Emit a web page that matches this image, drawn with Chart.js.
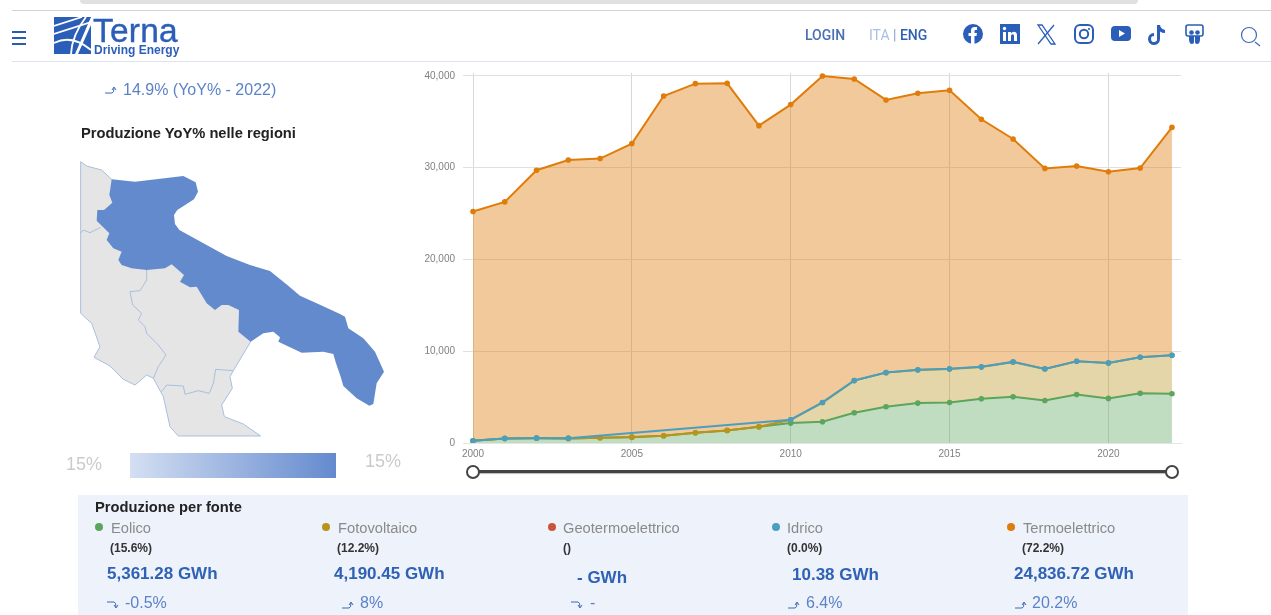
<!DOCTYPE html>
<html lang="it">
<head>
<meta charset="utf-8">
<title>Produzione per fonte</title>
<script src="https://cdn.jsdelivr.net/npm/chart.js@4"></script>
<style>
    html, body { margin: 0; padding: 0; background: #fff; overflow: hidden; }
    #page { position: relative; width: 1271px; height: 615px; overflow: hidden; font-family: "Liberation Sans", Arial, sans-serif; filter: blur(0.3px); }
    #page > * { position: absolute; }
    .abs { position: absolute; white-space: nowrap; line-height: 1; }
    .topbar { left: 80px; top: 0; width: 1058px; height: 4px; background: #e0e0e0; border-radius: 0 0 8px 8px; }
    .rule { left: 12px; width: 1259px; height: 1px; }
    .burger { left: 12px; width: 14px; height: 2px; background: #2a5db0; }
    .nav { font-family: Roboto, sans-serif; font-weight: 500; font-size: 14px; top: 28px; color: #4a6fb5; }
    .panel { left: 78px; top: 495px; width: 1110px; height: 120px; background: #eef2fb; }
    .heading { font-weight: bold; font-size: 14.7px; color: #222; }
    .name { font-size: 14.7px; color: #8a8a8a; top: 521px; }
    .share { font-weight: bold; font-size: 12px; color: #333; top: 542px; }
    .gwh { font-weight: bold; font-size: 17px; color: #2f62b5; }
    .yoy { font-size: 16px; color: #5c82c8; top: 595px; }
    .dot { width: 8px; height: 8px; border-radius: 50%; top: 523px; }
    .track { left: 473px; top: 470px; width: 699px; height: 3px; background: #444; box-shadow: 0 1px 1px #bbb; }
    .knob { top: 465px; width: 10px; height: 10px; border: 2px solid #444; border-radius: 50%; background: #fff; }
</style>
</head>
<body>
<div id="page">
    <div class="topbar"></div>
    <div class="rule" style="top:10px;background:#d2d2d2"></div>
    <div class="rule" style="top:61px;background:#dde4ee"></div>
    <div class="burger" style="top:31px"></div>
    <div class="burger" style="top:37px"></div>
    <div class="burger" style="top:43px"></div>

    <!-- logo -->
    <svg style="left:54px;top:17px" width="37" height="37" viewBox="0 0 37 37">
        <path d="M0 0 H37 L21 37 H0 Z M37 37 H24 L37 8 Z" fill="#2b5eb8"/>
        <g stroke="#fff" stroke-width="1.8" fill="none">
            <path d="M0 9 L28 0"/><path d="M0 17 L37 5"/><path d="M0 26 Q18 17 37 33"/>
            <path d="M17 37 Q18 18 32 0"/>
        </g>
    </svg>
    <div class="abs" style="left:93px;top:13.5px;font-size:33.5px;color:#2b5eb8;-webkit-text-stroke:0.4px #2b5eb8;letter-spacing:0.2px">Terna</div>
    <div class="abs" style="left:94px;top:44px;font-size:12px;font-weight:bold;color:#2b5eb8">Driving Energy</div>

    <div class="abs nav" style="left:805px">LOGIN</div>
    <div class="abs nav" style="left:869px;font-weight:400"><span style="color:#a9bfe3">ITA</span> <span style="color:#7f9fd6">|</span> <span style="color:#2f5fb3;font-weight:500">ENG</span></div>

    <!-- social icons -->
    <svg style="left:960px;top:20px" width="306" height="30" viewBox="960 20 306 30" fill="#2b5eb8">
        <circle cx="973" cy="34" r="10"/>
        <path d="M971 44 V36 H968.5 V33 H971 V30.5 Q971 27 974.5 27 H977 V30 H975.5 Q974.500 30 974.500 31 V33 H977 L976.500 36 H974.500 V44 Z" fill="#fff"/>
        <rect x="1000" y="24" width="20" height="20"/>
        <g fill="#fff"><rect x="1003" y="32" width="3" height="9"/><circle cx="1004.500" cy="28.500" r="1.700"/><path d="M1008 32 H1011 V33.300 Q1012 31.800 1014 31.800 Q1017 31.800 1017 35.500 V41 H1014 V36 Q1014 34.300 1012.700 34.300 Q1011 34.300 1011 36 V41 H1008 Z"/></g>
        <g fill="none" stroke="#2b5eb8"><path d="M1038 25 H1042 L1055 44 H1051 Z" stroke-width="1.300"/><path d="M1054 25 L1038 44" stroke-width="1.300"/>
        <rect x="1075" y="25" width="18" height="18" rx="5" stroke-width="2"/><circle cx="1084" cy="34" r="4.200" stroke-width="2"/></g>
        <circle cx="1089" cy="29" r="1.100"/>
        <rect x="1111" y="26" width="20" height="15" rx="4"/><path d="M1119 30 L1125 33.500 L1119 37 Z" fill="#fff"/>
        <path d="M1157 25 H1160 Q1160.500 29 1165 30 V33 Q1162 33 1160 31.500 V38.500 A6 6 0 1 1 1154 33 V36 A3 3 0 1 0 1157 38.500 Z"/>
        <rect x="1186" y="25" width="17" height="11" rx="2" fill="none" stroke="#2b5eb8" stroke-width="1.600"/>
        <circle cx="1191.500" cy="32.500" r="2.300"/><circle cx="1197.500" cy="32.500" r="2.300"/>
        <path d="M1189 36 H1194 V42 Q1194 44 1192 44 Q1189 44 1189 39 Z M1195 36 H1200 V39 Q1200 44 1197 44 Q1195 44 1195 42 Z"/>
        <g fill="none" stroke="#3d68b8" stroke-width="1.200"><circle cx="1249" cy="35" r="7.500"/><path d="M1255 42 L1260 46"/></g>
    </svg>

    <div id="yoyTotal" class="abs" style="left:105px;top:82px;font-size:16px;color:#5c82c8"></div>
    <div class="abs heading" style="left:81px;top:126px">Produzione YoY% nelle regioni</div>

    <!-- mappa regioni -->
    <svg style="left:50px;top:150px" width="350" height="330" viewBox="0 0 1050 990">
        <path fill="#e5e5e5" stroke="#a9bfdf" stroke-width="3" d="M92 35 L110 48 L155 60 L185 88 L300 200 L600 450 L602 575 L550 662 L540 680 L547 715 L515 765 L523 800 L580 822 L632 858 L385 858 L360 830 L340 740 L310 685 L290 675 L255 705 L220 688 L180 648 L132 622 L150 590 L125 520 L92 490 Z"/>
        <g fill="none" stroke="#a9bfdf" stroke-width="3">
            <path d="M92 250 L100 240 L120 248 L152 232"/>
            <path d="M290 360 L290 390 L270 422 L240 425 L248 465 L275 490 L265 510 L285 530 L290 550 L325 585 L348 615 L325 650 L310 685"/>
            <path d="M335 725 L350 705 L400 708 L405 733 L445 722 L478 730 L490 700 L497 658 L550 662"/>
        </g>
        <path fill="#648ace" d="M185 88 L255 95 L400 78 L437 97 L444 125 L432 148 L382 180 L372 195 L375 222 L388 240 L530 318 L600 345 L660 363 L712 405 L750 437 L805 462 L870 492 L885 500 L895 535 L940 565 L975 605 L1002 665 L980 700 L970 762 L958 767 L920 745 L880 708 L872 680 L858 640 L850 612 L820 605 L755 608 L685 575 L690 562 L670 545 L640 550 L602 575 L565 545 L567 480 L535 465 L515 465 L495 480 L470 460 L440 410 L420 412 L390 395 L402 375 L365 343 L345 355 L290 360 L245 355 L215 345 L205 330 L215 305 L190 295 L170 270 L178 250 L140 212 L142 180 L162 180 L187 158 L178 135 Z"/>
    </svg>
    <div class="abs" style="left:66px;top:455px;font-size:18px;color:#cbcbcb">15%</div>
    <div style="left:130px;top:453px;width:206px;height:25px;background:linear-gradient(to right,#d4dff2,#648ace)"></div>
    <div class="abs" style="left:365px;top:452px;font-size:18px;color:#cbcbcb">15%</div>

    <canvas id="chart" style="left:420px;top:59px"></canvas>
    <div class="track"></div>
    <div class="knob" style="left:466px"></div>
    <div class="knob" style="left:1165px"></div>

    <div class="panel"></div>
    <div class="abs heading" style="left:95px;top:500px">Produzione per fonte</div>
    <div id="sources"></div>
</div>

<script>
    const years = [2000, 2001, 2002, 2003, 2004, 2005, 2006, 2007, 2008, 2009, 2010, 2011, 2012, 2013, 2014, 2015, 2016, 2017, 2018, 2019, 2020, 2021, 2022];
    const yTicks = [0, 10000, 20000, 30000, 40000];
    const xTicks = [2000, 2005, 2010, 2015, 2020];

    // GWh per fonte (il grafico originale e' impilato)
    const eolico = [240, 490, 530, 500, 570, 640, 790, 1110, 1370, 1770, 2170, 2320, 3300, 3950, 4350, 4420, 4820, 5040, 4640, 5290, 4860, 5430, 5361.28];
    const fotovoltaico = [0, 0, 0, 0, 5, 5, 5, 5, 5, 5, 360, 2090, 3500, 3720, 3610, 3650, 3470, 3790, 3430, 3610, 3860, 3910, 4190.45];
    const idrico = [10, 10, 10, 10, null, null, null, null, null, null, 10, 10, 10, 10, 10, 10, 10, 10, 10, 10, 10, 10, 10.38];
    const termoelettrico = [24980, 25780, 29190, 30340, 30425, 31985, 37025, 38050, 37825, 32810, 34340, 35580, 32860, 29710, 30140, 30360, 26980, 24300, 21850, 21270, 20840, 20610, 24836.72];

    const sourceNames = ['Eolico', 'Fotovoltaico', 'Geotermoelettrico', 'Idrico', 'Termoelettrico'];
    const sourceShares = ['(15.6%)', '(12.2%)', '()', '(0.0%)', '(72.2%)'];
    const sourceTotals = ['5,361.28 GWh', '4,190.45 GWh', '- GWh', '10.38 GWh', '24,836.72 GWh'];
    const sourceTrends = ['-0.5%', '8%', '-', '6.4%', '20.2%'];
    const sourceTrendUp = [false, true, false, true, true];
    const totalTrend = '14.9% (YoY% - 2022)';

    const COLORS = ['#5ca55c', '#b8941a', '#c9553a', '#4a9fc0', '#e07d0a'];
    const FILLS = ['rgba(92,165,92,0.38)', 'rgba(184,148,26,0.38)', null, null, 'rgba(224,125,10,0.41)'];

    // posizioni dei blocchi in basso, in px
    const DOT_X = [95, 322, 548, 772, 1007];
    const NAME_X = [111, 338, 563, 787, 1023];
    const SHARE_X = [110, 337, 563, 787, 1022];
    const TOTAL_X = [107, 334, 577, 792, 1014];
    const TOTAL_Y = [565, 565, 569, 566, 565];
    const ARROW_X = [107, 342, 571, 788, 1015];
    const TREND_X = [125, 360, 590, 806, 1032];

    /**
     * adds one series on top of the running total, nulls stay gaps in the line
     *
     * @param {Array} base running total
     * @param {Array} values series values
     * @returns {Array} summed values
     */
    function stackOn(base, values) {
        return values.map((v, i) => (v === null ? null : base[i] + v));
    }

    function points(values) {
        return values.map((v, i) => ({ x: years[i], y: v }));
    }

    function lineDataset(label, values, idx, fill) {
        return {
            label: label,
            data: points(values),
            borderColor: COLORS[idx],
            backgroundColor: FILLS[idx] || 'transparent',
            pointBackgroundColor: COLORS[idx],
            pointBorderWidth: 0,
            pointRadius: 2.8,
            borderWidth: 2,
            tension: 0,
            spanGaps: true,
            fill: fill,
        };
    }

    function arrowIcon(up) {
        const d = up ? 'M0 8 H7 Q9 8 9 3 M7 5 L9 2 L11 5' : 'M0 2 H7 Q9 2 9 7 M7 5 L9 8 L11 5';
        return `<svg width="12" height="10" viewBox="0 0 12 10" fill="none" stroke="#3d68b8" stroke-width="1"><path d="${d}"/></svg>`;
    }

    function buildSources() {
        let html = '';
        sourceNames.forEach((name, i) => {
            html += `<div class="abs dot" style="left:${DOT_X[i]}px;background:${COLORS[i]}"></div>`;
            html += `<div class="abs name" style="left:${NAME_X[i]}px">${name}</div>`;
            html += `<div class="abs share" style="left:${SHARE_X[i]}px">${sourceShares[i]}</div>`;
            html += `<div class="abs gwh" style="left:${TOTAL_X[i]}px;top:${TOTAL_Y[i]}px">${sourceTotals[i]}</div>`;
            html += `<div class="abs" style="left:${ARROW_X[i]}px;top:597px">${arrowIcon(sourceTrendUp[i])}</div>`;
            html += `<div class="abs yoy" style="left:${TREND_X[i]}px">${sourceTrends[i]}</div>`;
        });
        document.getElementById('sources').innerHTML = html;
        document.getElementById('yoyTotal').innerHTML = `${arrowIcon(true)}<span style="margin-left:6px">${totalTrend}</span>`;
    }

    buildSources();

    const zeros = years.map(() => 0);
    const eolicoTop = stackOn(zeros, eolico);
    const fotoTop = stackOn(eolicoTop, fotovoltaico);
    const idricoTop = stackOn(fotoTop, idrico);
    const termoTop = stackOn(stackOn(fotoTop, idrico.map(v => v || 0)), termoelettrico);

    const canvas = document.getElementById('chart');
    canvas.width = 780;
    canvas.height = 413;

    new Chart(canvas, {
        type: 'line',
        data: {
            // il primo dataset sta sopra agli altri
            datasets: [
                lineDataset('Idrico', idricoTop, 3, false),
                lineDataset('Fotovoltaico', fotoTop, 1, { target: 2 }),
                lineDataset('Eolico', eolicoTop, 0, 'origin'),
                lineDataset('Termoelettrico', termoTop, 4, { target: 1 }),
            ],
        },
        options: {
            responsive: false,
            animation: false,
            layout: { padding: { top: 7, right: 19, left: 0, bottom: 0 } },
            plugins: {
                legend: { display: false },
                tooltip: { enabled: false },
                filler: { drawTime: 'beforeDatasetsDraw' },
            },
            scales: {
                x: {
                    type: 'linear',
                    min: 1999.685,
                    max: 2022.285,
                    afterBuildTicks: (axis) => { axis.ticks = xTicks.map(v => ({ value: v })); },
                    afterFit: (axis) => { axis.height = 29; },
                    grid: { color: '#d8d8d8', lineWidth: 1, drawTicks: false },
                    border: { color: '#e4e4e4' },
                    ticks: {
                        padding: 5,
                        color: '#808080',
                        autoSkip: false,
                        maxRotation: 0,
                        font: { family: '"Liberation Sans", Arial, sans-serif', size: 10 },
                        callback: (v) => String(v),
                    },
                },
                y: {
                    min: 0,
                    max: 40326,
                    afterBuildTicks: (axis) => { axis.ticks = yTicks.map(v => ({ value: v })); },
                    afterFit: (axis) => { axis.width = 43; },
                    grid: { color: '#e0e0e0', lineWidth: 1, drawTicks: false },
                    border: { display: false },
                    ticks: {
                        padding: 8,
                        color: '#808080',
                        font: { family: '"Liberation Sans", Arial, sans-serif', size: 10 },
                        callback: (v) => v.toLocaleString('en-US'),
                    },
                },
            },
        },
    });
</script>
</body>
</html>
